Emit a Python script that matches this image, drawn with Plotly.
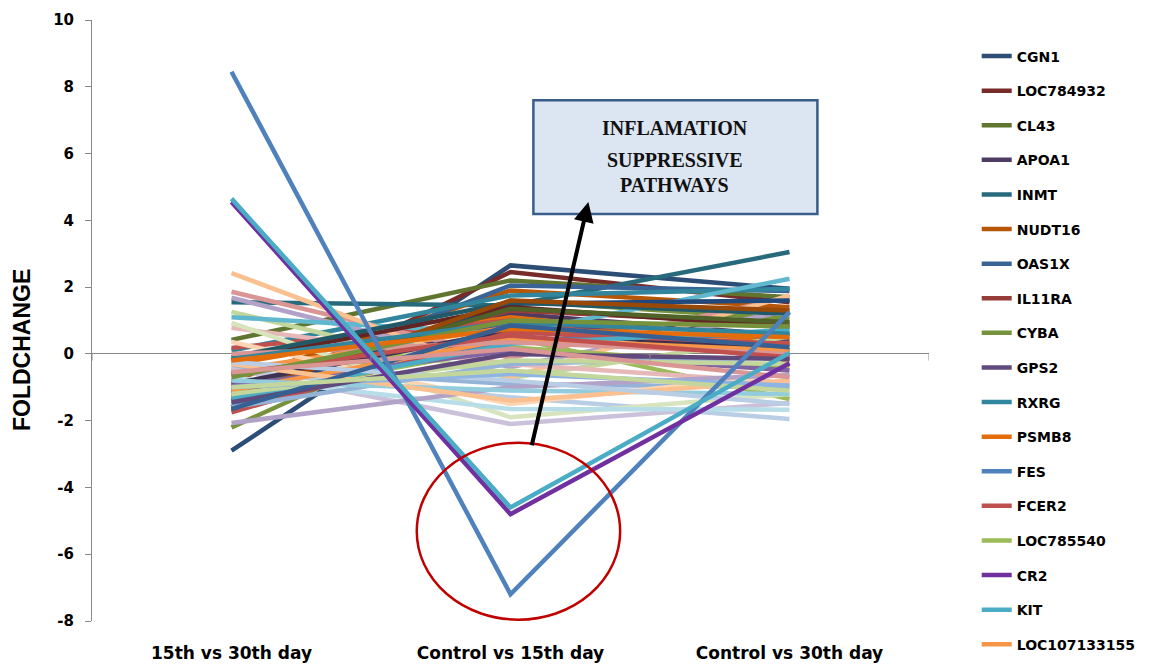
import plotly.graph_objects as go

categories = ["15th vs 30th day", "Control vs 15th day", "Control vs 30th day"]

y_tick_values = [-8, -6, -4, -2, 0, 2, 4, 6, 8, 10]
y_tick_labels = ["-8", "-6", "-4", "-2", "0", "2", "4", "6", "8", "10"]

genes = [
    "CGN1", "LOC784932", "CL43", "APOA1", "INMT", "NUDT16", "OAS1X", "IL11RA",
    "CYBA", "GPS2", "RXRG", "PSMB8", "FES", "FCER2", "LOC785540", "CR2", "KIT",
    "LOC107133155",
] + [f"Gene{i}" for i in range(19, 59)]

v_15_30 = [
    -2.9, -1.6, 0.42, -1.7, 1.55, -0.8, -1.2, -1.0, -2.2, -0.6, 0.1, -0.3,
    8.45, 0.18, -0.9, 4.55, 4.65, -0.5,
    -0.4, 1.86, 1.26, 1.68, 1.1, 2.42, -0.5, 0.78, 0.93, -0.45, -0.7, 0.36,
    -1.4, -0.2, -1.1, -0.9, -0.1, -1.3, -1.5, -1.75, -1.3, -0.95, -1.35, -1.1,
    -1.6, 0.0, -1.2, -2.07, -0.8, -0.3, -0.25, -1.0, -0.15, -0.6, -0.7, -1.45,
    -0.2, -1.65, -0.55, -1.0,
]
v_c_15 = [
    2.65, 2.45, 2.2, 1.2, 1.45, 1.9, 2.05, 1.3, 1.6, 0.9, 1.75, 1.1,
    -7.2, 1.0, 0.5, -4.8, -4.6, 0.8,
    -0.9, -0.12, -0.72, -0.4, 0.6, -0.7, -1.3, -0.3, -1.9, -2.1, -1.65, -1.5,
    1.5, 1.4, 1.35, 0.7, 1.55, 1.6, 0.4, 0.65, 0.2, 0.1, 0.3, 0.45,
    -0.3, 0.35, -0.2, -1.0, -1.1, -1.4, -0.8, -0.6, 0.95, 0.55, 1.0, 0.0,
    0.75, 0.85, 0.15, -0.5,
]
v_c_30 = [
    1.95, 1.55, 1.7, 0.55, 3.05, 1.4, 1.88, 0.9, 1.05, 0.4, 1.95, 0.3,
    1.25, -0.2, -1.35, -0.28, 0.03, 0.27,
    -1.0, 1.7, 0.52, 1.3, 2.25, 1.75, -1.95, -0.87, -1.2, -1.47, -1.67, -0.6,
    1.6, 0.8, 0.95, 0.1, 1.2, 1.3, 0.6, 0.3, -0.4, -0.5, 0.72, 0.1,
    -0.1, 0.0, -0.3, -0.63, -1.2, -0.8, -1.5, -0.95, 0.6, -0.1, 0.82, -0.15,
    0.5, 0.2, -0.7, -1.1,
]

colors = [
    "#2C4D75", "#772C2A", "#5F7530", "#4D3B62", "#276A7C", "#B65708",
    "#3A6496", "#963C3A", "#76923C", "#5F4A7E", "#31859C", "#E46C0A",
    "#4F81BD", "#C0504D", "#9BBB59", "#7030A0", "#4BACC6", "#F79646",
    "#95B3D7", "#D99694", "#C3D69B", "#B3A2C7", "#60B8CF", "#FAC090",
    "#B9CDE5", "#E6B9B8", "#D7E4BD", "#CCC1DA", "#B7DEE8", "#FCD5B5",
    "#1F497D", "#632523", "#4F6228", "#3F3151", "#215968", "#984807",
    "#4F81BD", "#C0504D", "#9BBB59", "#8064A2", "#4BACC6", "#F79646",
    "#95B3D7", "#D99694", "#C3D69B", "#B3A2C7", "#93CDDD", "#FAC090",
    "#B9CDE5", "#8EB4E3", "#31859C", "#C0504D", "#76923C", "#604A7B",
    "#E46C0A", "#376092", "#D99694", "#C3D69B",
]

n_legend = 18
highlight = {"FES", "CR2", "KIT"}

fig = go.Figure()
order = [i for i in range(len(genes)) if genes[i] not in highlight] + \
        [i for i in range(len(genes)) if genes[i] in highlight]
for i in order:
    fig.add_trace(go.Scatter(
        x=categories,
        y=[v_15_30[i], v_c_15[i], v_c_30[i]],
        mode="lines",
        name=genes[i],
        line=dict(color=colors[i], width=4.5),
        showlegend=i < n_legend,
        legendrank=i,
        legendgroup=f"g{i}",
    ))

# Annotation box
fig.add_shape(type="rect", xref="x", yref="y", x0=1.082, x1=2.1, y0=4.19, y1=7.6,
              fillcolor="#DCE6F2", line=dict(color="#385D8A", width=2.5), layer="above")
for txt, yy in [("INFLAMATION", 6.78), ("SUPPRESSIVE", 5.82), ("PATHWAYS", 5.05)]:
    fig.add_annotation(x=1.589, y=yy, xref="x", yref="y", text=txt,
                       showarrow=False,
                       font=dict(family="Liberation Serif", size=20, color="#111", weight="bold"))

# Red ellipse
fig.add_shape(type="circle", xref="x", yref="y", x0=0.664, x1=1.393, y0=-7.96, y1=-2.66,
              line=dict(color="#C00000", width=2.5), layer="above")

# Arrow
fig.add_annotation(x=1.279, y=4.55, ax=1.075, ay=-2.78, xref="x", yref="y",
                   axref="x", ayref="y", showarrow=True, arrowhead=2, arrowsize=1,
                   arrowwidth=4, arrowcolor="black", text="")

# category-axis tick marks on zero line
for xb in [-0.5, 0.5, 1.5, 2.5]:
    fig.add_shape(type="line", xref="x", yref="y", x0=xb, x1=xb, y0=0, y1=-0.2,
                  line=dict(color="#888888", width=1))

# Y axis title
fig.add_annotation(x=0, y=(621 - 350) / 601, xref="paper", yref="paper", xshift=-70,
                   text="FOLDCHANGE", textangle=-90, showarrow=False,
                   xanchor="center", yanchor="middle",
                   font=dict(family="Liberation Sans", size=23, color="black", weight="bold"))

fig.update_layout(
    width=1153, height=665,
    margin=dict(l=92, r=221, t=20, b=44),
    paper_bgcolor="white", plot_bgcolor="white",
    font=dict(family="DejaVu Sans", color="black"),
    legend=dict(x=1.057, y=0.966, xanchor="left", yanchor="top",
                font=dict(family="DejaVu Sans", size=14, color="black", weight="bold"),
                tracegroupgap=13.4, bgcolor="rgba(0,0,0,0)", maxheight=660),
    showlegend=True,
)
fig.update_xaxes(
    type="category", range=[-0.5, 2.5], showline=False, showgrid=False, ticks="",
    tickfont=dict(family="DejaVu Sans", size=17, color="black", weight="bold"),
    ticklabelstandoff=20, automargin=False,
)
fig.update_yaxes(
    range=[-8, 10], tickvals=y_tick_values, ticktext=y_tick_labels,
    showgrid=False, showline=True, linecolor="#888888",
    ticks="outside", ticklen=6, tickcolor="#888888",
    zeroline=True, zerolinecolor="#888888", zerolinewidth=1,
    tickfont=dict(family="DejaVu Sans", size=15, color="black", weight="bold"),
    ticklabelstandoff=8, automargin=False,
)

fig.write_html("out.html")
